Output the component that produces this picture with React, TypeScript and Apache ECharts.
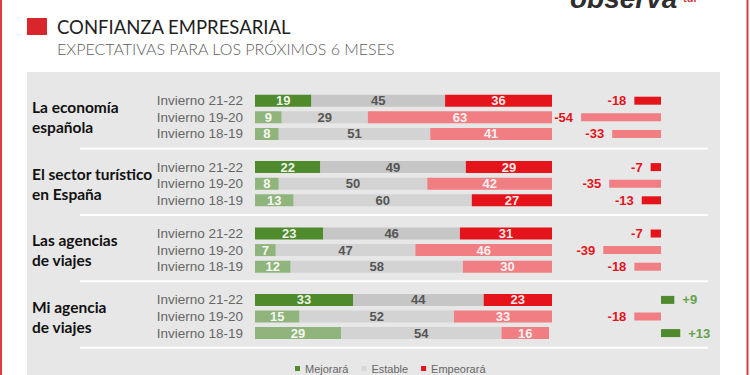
import React, { useEffect, useRef } from "react";
import * as echarts from "echarts";

const groups = [
  "La economía\nespañola",
  "El sector turístico\nen España",
  "Las agencias\nde viajes",
  "Mi agencia\nde viajes",
];
const periods = ["Invierno 21-22", "Invierno 19-20", "Invierno 18-19"];
const mejorara = [
  [19, 9, 8],
  [22, 8, 13],
  [23, 7, 12],
  [33, 15, 29],
];
const estable = [
  [45, 29, 51],
  [49, 50, 60],
  [46, 47, 58],
  [44, 52, 54],
];
const empeorara = [
  [36, 63, 41],
  [29, 42, 27],
  [31, 46, 30],
  [23, 33, 16],
];
const saldo = [
  [-18, -54, -33],
  [-7, -35, -13],
  [-7, -39, -18],
  [9, -18, 13],
];
const legendNames = ["Mejorará", "Estable", "Empeorará"];
const title = "CONFIANZA EMPRESARIAL";
const subtitle = "EXPECTATIVAS PARA LOS PRÓXIMOS 6 MESES";

// style: rows whose red marks are drawn in strong red besides the current period
const strongRedRows = [[1, 2]];

const STRONG = { green: "#4f8a2c", gray: "#c6c6c6", red: "#e5141b" };
const LIGHT = { green: "#8fb57c", gray: "#d3d3d3", red: "#f07e82" };

export default function App() {
  const ref = useRef<HTMLDivElement>(null);
  useEffect(() => {
    const chart = echarts.init(ref.current!, null, { renderer: "svg" });
    type Slot = { g: number; p: number } | null;
    const slots: Slot[] = [];
    groups.forEach((_, g) => {
      periods.forEach((_, p) => slots.push({ g, p }));
      slots.push(null);
    });
    const keys = slots.map((_, i) => "s" + i);
    const strongRed = (s: { g: number; p: number }) =>
      s.p === 0 || strongRedRows.some(([g, p]) => g === s.g && p === s.p);

    const top = 92.4;
    const height = 265.6;
    const labelFont = "'Liberation Sans', Arial, sans-serif";

    const barLabel = (color: string) => ({
      show: true,
      position: "inside",
      color,
      fontSize: 13,
      fontWeight: "bold",
      fontFamily: labelFont,
      formatter: "{c}",
    });

    const mkMain = (name: string, arr: number[][], kind: "green" | "gray" | "red") => ({
      name,
      type: "bar",
      stack: "total",
      xAxisIndex: 0,
      yAxisIndex: 0,
      barWidth: 12,
      itemStyle: { color: kind === "gray" ? "#d6d6d6" : STRONG[kind] },
      label: barLabel(kind === "gray" ? "#555" : "rgba(255,255,255,0.92)"),
      data: slots.map((s) => {
        if (!s) return "-";
        let strong = s.p === 0;
        if (kind === "red") strong = strongRed(s);
        return {
          value: arr[s.g][s.p],
          itemStyle: { color: strong ? STRONG[kind] : LIGHT[kind] },
        };
      }),
    });

    const catAxis = (gridIndex: number, extra: any) => ({
      gridIndex,
      type: "category",
      data: keys,
      inverse: true,
      axisLine: { show: false },
      axisTick: { show: false },
      splitLine: { show: false },
      ...extra,
    });

    chart.setOption({
      animation: false,
      backgroundColor: "#ffffff",
      title: [
        {
          text: title,
          left: 52,
          top: 12,
          textStyle: { fontFamily: "Lato, sans-serif", fontSize: 18.5, fontWeight: "normal", color: "#1e1e1e" },
        },
        {
          text: subtitle,
          left: 52,
          top: 35,
          textStyle: { fontFamily: "Lato, sans-serif", fontSize: 16, fontWeight: 300, color: "#5e5e5e" },
        },
      ],
      graphic: [
        { type: "rect", z: -10, shape: { x: 27, y: 72, width: 693, height: 310 }, style: { fill: "#e7e7e7" } },
        { type: "rect", z: 10, shape: { x: 1, y: -10, width: 746.5, height: 400 }, style: { fill: "none", stroke: "#dd3b3e", lineWidth: 2 } },
        { type: "rect", shape: { x: 27, y: 18, width: 20, height: 17 }, style: { fill: "#d9262c" } },
        {
          type: "text",
          x: 570,
          y: -16,
          style: { text: "observa", fontFamily: "Arial, sans-serif", fontSize: 28, fontWeight: "bold", fontStyle: "italic", fill: "#2e2e2e" },
        },
        {
          type: "text",
          x: 683,
          y: -8,
          style: { text: "tur", fontFamily: "Arial, sans-serif", fontSize: 11, fontWeight: "bold", fill: "#e0393d" },
        },
      ],
      legend: {
        data: legendNames,
        left: 290,
        top: 358,
        icon: "rect",
        itemWidth: 5,
        itemHeight: 5,
        itemGap: 13,
        textStyle: { color: "#666", fontSize: 11, fontFamily: "'Liberation Sans Narrow', 'Liberation Sans', Arial" },
      },
      grid: [
        { left: 255, width: 297, top, height },
        { left: 572.2, width: 118.4, top, height },
        { left: 80, width: 628, top: top - 2, height },
      ],
      xAxis: [
        { gridIndex: 0, type: "value", min: 0, max: 100, show: false },
        { gridIndex: 1, type: "value", min: -60, max: 20, show: false },
        { gridIndex: 2, type: "value", min: 0, max: 1, show: false },
      ],
      yAxis: [
        catAxis(0, {
          axisLabel: {
            interval: 0,
            margin: 12,
            color: "#666",
            fontSize: 13.5,
            fontFamily: labelFont,
            formatter: (_v: string, i: number) => (slots[i] ? periods[slots[i]!.p] : ""),
          },
        }),
        catAxis(0, {
          position: "left",
          offset: 0,
          axisLabel: {
            interval: 0,
            margin: 223,
            align: "left",
            color: "#111",
            fontSize: 15.5,
            fontWeight: "bold",
            lineHeight: 20,
            padding: [6, 0, 0, 0],
            fontFamily: "Lato, sans-serif",
            formatter: (_v: string, i: number) =>
              slots[i] && slots[i]!.p === 1 ? groups[slots[i]!.g] : "",
          },
        }),
        catAxis(1, { axisLabel: { show: false } }),
        catAxis(2, { axisLabel: { show: false } }),
      ],
      series: [
        mkMain(legendNames[0], mejorara, "green"),
        mkMain(legendNames[1], estable, "gray"),
        mkMain(legendNames[2], empeorara, "red"),
        {
          name: "Saldo",
          type: "bar",
          xAxisIndex: 1,
          yAxisIndex: 2,
          barWidth: 8,
          data: slots.map((s) => {
            if (!s) return "-";
            const v = saldo[s.g][s.p];
            const pos = v >= 0;
            return {
              value: v,
              itemStyle: { color: pos ? STRONG.green : strongRed(s) ? STRONG.red : LIGHT.red },
              label: {
                show: true,
                position: pos ? "right" : "left",
                distance: 8,
                color: pos ? "#64a24a" : STRONG.red,
                fontSize: 13,
                fontWeight: "bold",
                fontFamily: labelFont,
                formatter: pos ? "+" + v : String(v),
              },
            };
          }),
        },
        {
          name: "sep",
          type: "bar",
          xAxisIndex: 2,
          yAxisIndex: 3,
          barWidth: 2,
          silent: true,
          itemStyle: { color: "#ffffff" },
          data: slots.map((s) => (s ? "-" : 1)),
        },
      ],
    });
    return () => chart.dispose();
  }, []);
  return (
    <div
      ref={ref}
      style={{ position: "absolute", left: 0, top: 0, width: 750, height: 375 }}
    />
  );
}
